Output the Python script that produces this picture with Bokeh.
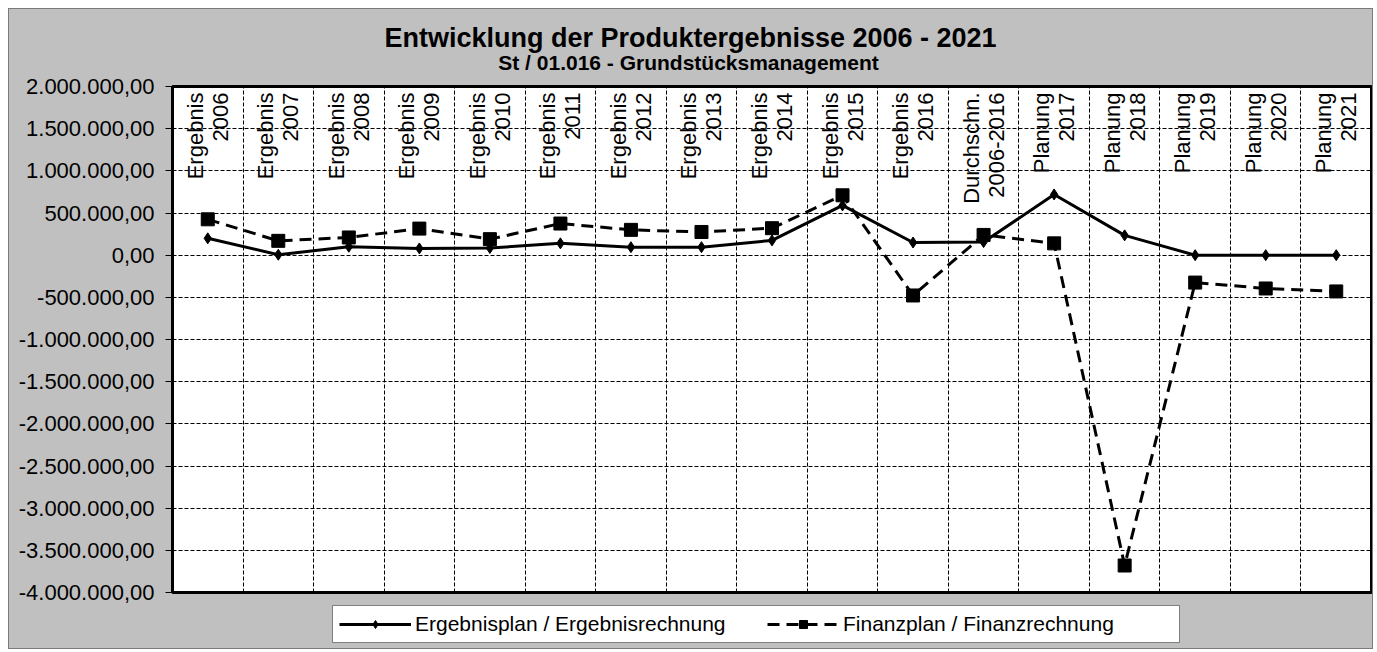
from bokeh.plotting import figure
from bokeh.layouts import column
from bokeh.models import (Range1d, FixedTicker, Label, Legend, LegendItem, ColumnDataSource)
from bokeh.core.properties import value
from bokeh.embed import file_html
from bokeh.resources import INLINE
import math

title_text = "Entwicklung der Produktergebnisse 2006 - 2021"
subtitle_text = "St / 01.016 - Grundstücksmanagement"

categories = ["Ergebnis\n2006", "Ergebnis\n2007", "Ergebnis\n2008", "Ergebnis\n2009",
              "Ergebnis\n2010", "Ergebnis\n2011", "Ergebnis\n2012", "Ergebnis\n2013",
              "Ergebnis\n2014", "Ergebnis\n2015", "Ergebnis\n2016", "Durchschn.\n2006-2016",
              "Planung\n2017", "Planung\n2018", "Planung\n2019", "Planung\n2020", "Planung\n2021"]

ergebnis = [200000, 5000, 100000, 80000, 85000, 140000, 95000, 95000, 175000, 590000,
            150000, 155000, 720000, 235000, 0, 0, 0]
finanz = [425000, 170000, 210000, 315000, 190000, 375000, 300000, 275000, 320000, 710000,
          -478000, 240000, 140000, -3680000, -325000, -395000, -430000]

series_names = ["Ergebnisplan / Ergebnisrechnung", "Finanzplan / Finanzrechnung"]

y_ticks = [-4000000, -3500000, -3000000, -2500000, -2000000, -1500000, -1000000, -500000,
           0, 500000, 1000000, 1500000, 2000000]
y_tick_labels = ["-4.000.000,00", "-3.500.000,00", "-3.000.000,00", "-2.500.000,00",
                 "-2.000.000,00", "-1.500.000,00", "-1.000.000,00", "-500.000,00",
                 "0,00", "500.000,00", "1.000.000,00", "1.500.000,00", "2.000.000,00"]

FONT = "Liberation Sans"
GRAY = "#c0c0c0"
W = 1363
BL, BR = 163, 1
n = len(categories)
xs = [i + 0.5 for i in range(n)]
source = ColumnDataSource(dict(x=xs, erg=ergebnis, fin=finanz, cat=categories,
                               ytop=[y_ticks[-1]] * n))


def strip(height):
    f = figure(width=W, height=height, output_backend="svg", toolbar_location=None,
               x_range=Range1d(0, 1), y_range=Range1d(0, 1),
               x_axis_location=None, y_axis_location=None,
               min_border_left=BL, min_border_right=BR,
               min_border_top=0, min_border_bottom=0)
    f.grid.visible = False
    f.background_fill_color = GRAY
    f.border_fill_color = GRAY
    f.outline_line_color = None
    return f


# ---- title strip (frame starts at x=172 on the page) ----
pt = strip(65)
pt.add_layout(Label(x=518, y=37, x_units="screen", y_units="screen", text=title_text,
                    text_align="center", text_baseline="middle", text_font=FONT,
                    text_font_size="27px", text_font_style="bold", text_color="black"))
pt.add_layout(Label(x=516, y=12, x_units="screen", y_units="screen", text=subtitle_text,
                    text_align="center", text_baseline="middle", text_font=FONT,
                    text_font_size="21px", text_font_style="bold", text_color="black"))

# ---- main chart ----
p = figure(width=W, height=530, output_backend="svg", toolbar_location=None,
           x_range=Range1d(0, n), y_range=Range1d(y_ticks[0], y_ticks[-1]),
           min_border_left=BL, min_border_right=BR, min_border_top=12, min_border_bottom=12)
p.border_fill_color = GRAY
p.background_fill_color = "white"
p.outline_line_color = "black"
p.outline_line_width = 3

p.xaxis.visible = False
p.yaxis.ticker = FixedTicker(ticks=y_ticks)
p.yaxis.major_label_overrides = {t: l for t, l in zip(y_ticks, y_tick_labels)}
p.yaxis.major_label_text_font = FONT
p.yaxis.major_label_text_font_size = "22px"
p.yaxis.major_label_text_color = "black"
p.yaxis.major_label_standoff = 11
p.yaxis.major_tick_out = 7
p.yaxis.major_tick_in = 0
p.yaxis.minor_tick_line_color = None
p.yaxis.axis_line_color = "black"
p.yaxis.axis_line_width = 3
p.yaxis.major_tick_line_color = "black"

p.ygrid.ticker = FixedTicker(ticks=y_ticks)
p.ygrid.grid_line_color = "black"
p.ygrid.grid_line_dash = "4 2"
p.ygrid.grid_line_width = 1
p.xgrid.ticker = FixedTicker(ticks=list(range(1, n)))
p.xgrid.grid_line_color = "black"
p.xgrid.grid_line_dash = "4 2"
p.xgrid.grid_line_width = 1

p.text(x="x", y="ytop", text="cat", source=source, angle=math.pi / 2,
       text_align="right", text_baseline="middle", y_offset=6,
       text_font=value(FONT), text_font_size="22px", text_color="black",
       text_line_height=1.0)

p.line("x", "fin", source=source, line_color="black", line_width=3, line_dash="12 7")
p.scatter("x", "fin", source=source, marker="square", size=13, color="black")
p.line("x", "erg", source=source, line_color="black", line_width=3)
p.scatter("x", "erg", source=source, marker="diamond", size=11, color="black")

# ---- legend strip ----
pl = strip(44)
# stand-in renderers (outside the visible range) only supply the legend glyph styles
dummy = ColumnDataSource(dict(x=[5, 6], y=[5, 6]))
g1 = pl.line("x", "y", source=dummy, line_color="black", line_width=3)
m1 = pl.scatter("x", "y", source=dummy, marker="diamond", size=11, color="black")
g2 = pl.line("x", "y", source=dummy, line_color="black", line_width=3, line_dash="12 7")
m2 = pl.scatter("x", "y", source=dummy, marker="square", size=13, color="black")
legend = Legend(items=[LegendItem(label=series_names[0], renderers=[g1, m1]),
                       LegendItem(label=series_names[1], renderers=[g2, m2])],
                orientation="horizontal", location=(160, 5),
                padding=6, spacing=22, glyph_width=72, glyph_height=20,
                label_standoff=4, label_width=330,
                label_text_font=FONT, label_text_font_size="21px", label_text_color="black",
                border_line_color="black", border_line_width=1,
                background_fill_color="white", background_fill_alpha=1.0, margin=0)
pl.add_layout(legend, "center")

layout = column(pt, p, pl, spacing=0, margin=(8, 0, 0, 8),
                styles={"background-color": GRAY, "border": "1px solid #7a7a7a"})
open("out.html", "w").write(file_html(layout, INLINE))
